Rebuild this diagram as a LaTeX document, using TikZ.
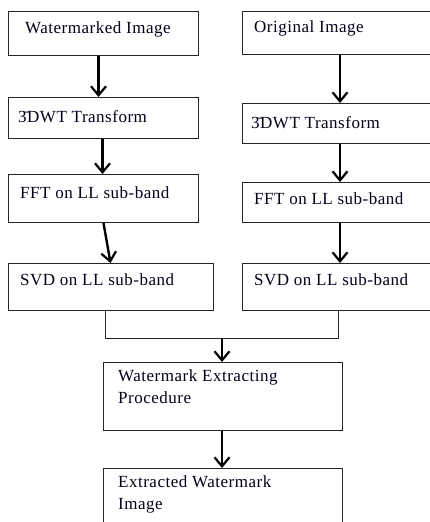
\documentclass[tikz,border=0pt]{standalone}
\usepackage{fontspec}
\setmainfont{Liberation Serif}[LetterSpace=3]
\usetikzlibrary{arrows.meta,calc}
\tikzset{
  box/.style={draw=black!85, line width=1pt, rectangle, inner sep=0pt, anchor=north west},
  lbl/.style={anchor=west, inner sep=0pt, font=\fontsize{17}{21}\selectfont, text=black!90!blue},
  lbl2/.style={anchor=north west, inner sep=0pt, align=left, font=\fontsize{17}{22}\selectfont, text=black!90!blue},
  arr/.style={line width=2.4pt, -{Straight Barb[length=9pt,width=15pt,line width=2.2pt]}},
  conn/.style={line width=1pt, draw=black!85}
}
\begin{document}
\begin{tikzpicture}[x=1pt,y=-1pt]
\useasboundingbox (0,0) rectangle (430,522);
\clip (0,0) rectangle (430,522);
% left column
\node[box, minimum width=190, minimum height=44] (l1) at (8,11) {};
\node[box, minimum width=190, minimum height=41] (l2) at (8,97) {};
\node[box, minimum width=190, minimum height=48] (l3) at (8,174) {};
\node[box, minimum width=205, minimum height=47] (l4) at (8,263) {};
% right column
\node[box, minimum width=190, minimum height=43] (r1) at (242,11) {};
\node[box, minimum width=190, minimum height=40] (r2) at (242,103) {};
\node[box, minimum width=190, minimum height=40] (r3) at (242,182) {};
\node[box, minimum width=190, minimum height=47] (r4) at (242,263) {};
% bottom
\node[box, minimum width=239, minimum height=68] (p) at (103,362) {};
\node[box, minimum width=239, minimum height=80] (e) at (103,468) {};
% labels
\node[lbl] (tl1) at (25,29) {Watermarked Image};
\node[lbl] (tl2) at (18,117) {\={3}DWT Transform};
\node[lbl] (tl3) at (20,193) {FFT on LL sub-band};
\node[lbl] (tl4) at (20,280) {SVD on LL sub-band};
\node[lbl] (tr1) at (254,28) {Original Image};
\node[lbl] (tr2) at (251,123) {\={3}DWT Transform};
\node[lbl] (tr3) at (254,199) {FFT on LL sub-band};
\node[lbl] (tr4) at (254,280) {SVD on LL sub-band};
\node[lbl2] (tp) at (118,369) {Watermark Extracting\\Procedure};
\node[lbl2] (te) at (118,475) {Extracted Watermark\\Image};
% arrows left
\draw[arr] ([xshift=-5]l1.south) -- ([xshift=-5]l2.north);
\draw[arr] ([xshift=-1]l2.south) -- ([xshift=-1]l3.north);
\draw[arr] ([xshift=0]l3.south) -- ([xshift=7]l3.south |- l4.north);
% arrows right
\draw[arr] ([xshift=2.5]r1.south) -- ([xshift=2.5]r2.north);
\draw[arr] ([xshift=2.5]r2.south) -- ([xshift=2.5]r3.north);
\draw[arr] ([xshift=2.5]r3.south) -- ([xshift=2.5]r4.north);
% merge
\coordinate (ml) at (105,338);
\coordinate (mr) at (338,338);
\coordinate (mm) at (222,338);
\draw[conn] (l4.south -| ml) -- (ml) -- (mr) -- (r4.south -| mr);
\draw[arr] (mm) -- (p.north -| mm);
\draw[arr] (p.south -| mm) -- (e.north -| mm);
\end{tikzpicture}
\end{document}
